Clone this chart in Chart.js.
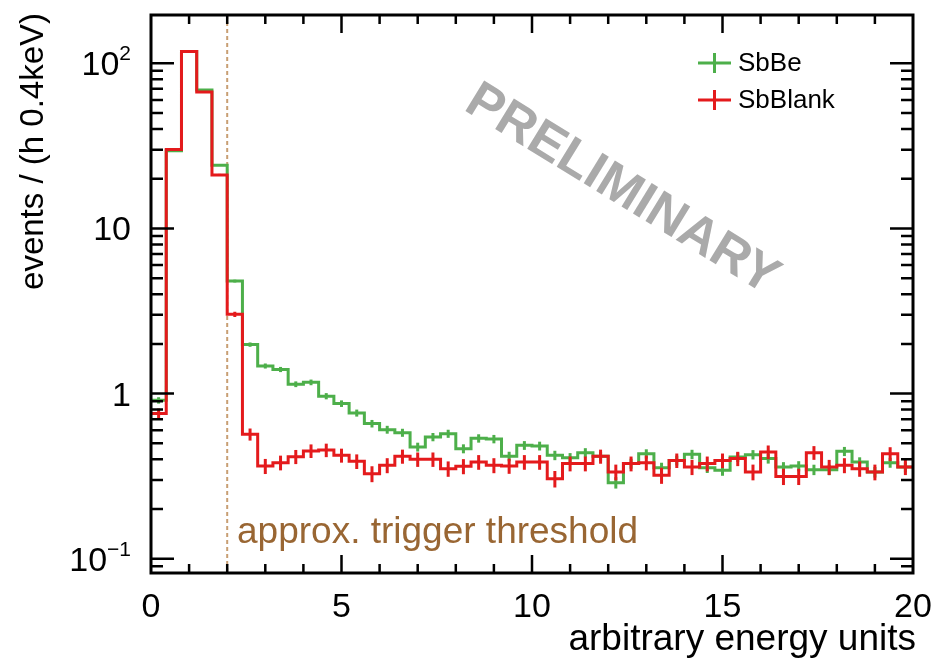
<!DOCTYPE html>
<html>
<head>
<meta charset="utf-8">
<script src="https://cdn.jsdelivr.net/npm/chart.js@4.4.0/dist/chart.umd.min.js"></script>
<style>
html, body { margin: 0; padding: 0; background: #fff; }
#wrap { width: 935px; height: 660px; }
</style>
</head>
<body>
<div id="wrap"><canvas id="myChart" width="935" height="660"></canvas></div>
<script>
// bin edges (0.4 wide bins)
const binEdges = [0, 0.4, 0.8, 1.2, 1.6, 2, 2.4, 2.8, 3.2, 3.6, 4, 4.4, 4.8, 5.2, 5.6, 6, 6.4, 6.8, 7.2, 7.6,
  8, 8.4, 8.8, 9.2, 9.6, 10, 10.4, 10.8, 11.2, 11.6, 12, 12.4, 12.8, 13.2, 13.6, 14, 14.4, 14.8, 15.2, 15.6,
  16, 16.4, 16.8, 17.2, 17.6, 18, 18.4, 18.8, 19.2, 19.6, 20];

const sbBe = [0.91, 29.5, 118, 69, 24.1, 4.8, 1.98, 1.47, 1.40, 1.14,
  1.17, 0.965, 0.87, 0.763, 0.658, 0.605, 0.58, 0.475, 0.546, 0.572,
  0.464, 0.536, 0.531, 0.417, 0.486, 0.482, 0.423, 0.409, 0.439, 0.417,
  0.289, 0.377, 0.432, 0.356, 0.394, 0.429, 0.356, 0.343, 0.413, 0.427,
  0.404, 0.359, 0.364, 0.346, 0.346, 0.447, 0.385, 0.335, 0.382, 0.359];

const sbBlank = [0.757, 30.1, 118, 67, 21.1, 3.02, 0.567, 0.364, 0.382, 0.415,
  0.45, 0.455, 0.423, 0.389, 0.327, 0.368, 0.417, 0.40, 0.40, 0.351,
  0.363, 0.385, 0.368, 0.365, 0.385, 0.385, 0.305, 0.377, 0.377, 0.417,
  0.335, 0.377, 0.382, 0.32, 0.394, 0.359, 0.377, 0.394, 0.404, 0.335,
  0.443, 0.315, 0.315, 0.439, 0.359, 0.368, 0.351, 0.335, 0.432, 0.359];

// counts per unit of the y value, used for poisson error bars
const exposureBe = 550;
const exposureBlank = 250;

const xTickLabels = ['0', '5', '10', '15', '20'];
const xTickValues = [0, 5, 10, 15, 20];
const yTickValues = [0.1, 1, 10, 100];
const yTickLabels = [['10', '\u22121'], ['1', ''], ['10', ''], ['10', '2']];
const thresholdX = 2;

const green = 'rgb(77,175,74)';
const red = 'rgb(228,26,28)';
const FONT = '"Liberation Sans", Arial, Helvetica, sans-serif';

function toSteps(values) {
  const pts = values.map((v, i) => ({ x: binEdges[i], y: v }));
  pts.push({ x: binEdges[values.length], y: values[values.length - 1] });
  return pts;
}

function poissonErr(values, k) {
  return values.map(v => Math.sqrt(v / k));
}

const framePlugin = {
  id: 'framePlugin',
  beforeDatasetsDraw(chart) {
    const { ctx, chartArea: a, scales: { x } } = chart;
    const px = x.getPixelForValue(thresholdX);
    ctx.save();
    ctx.strokeStyle = 'rgb(200,158,115)';
    ctx.lineWidth = 2;
    ctx.setLineDash([4, 3]);
    ctx.beginPath();
    ctx.moveTo(px, a.top);
    ctx.lineTo(px, a.bottom);
    ctx.stroke();
    ctx.restore();

    // watermark
    ctx.save();
    ctx.translate(622, 190);
    ctx.rotate(31.5 * Math.PI / 180);
    ctx.fillStyle = 'rgb(170,170,170)';
    ctx.font = 'bold 52px ' + FONT;
    ctx.textAlign = 'center';
    ctx.textBaseline = 'middle';
    ctx.fillText('PRELIMINARY', 0, 0);
    ctx.restore();
  },
  afterDatasetDraw(chart, args) {
    const ds = chart.data.datasets[args.index];
    const { ctx, scales: { x, y } } = chart;
    ctx.save();
    ctx.strokeStyle = ds.borderColor;
    ctx.lineWidth = 3;
    ds.values.forEach((v, i) => {
      const e = ds.errors[i];
      const xc = x.getPixelForValue((binEdges[i] + binEdges[i + 1]) / 2);
      const y1 = y.getPixelForValue(v + e);
      const y2 = y.getPixelForValue(Math.max(v - e, 0.01));
      ctx.beginPath();
      ctx.moveTo(xc, y1);
      ctx.lineTo(xc, y2);
      ctx.stroke();
    });
    ctx.restore();
  },
  afterDraw(chart) {
    const { ctx, chartArea: a, scales: { x, y } } = chart;
    ctx.save();
    ctx.strokeStyle = '#000';
    ctx.lineWidth = 3;
    ctx.strokeRect(a.left, a.top, a.right - a.left, a.bottom - a.top);

    // x ticks, every unit, long ones every 5
    ctx.lineWidth = 2.5;
    for (let v = 1; v < 20; v++) {
      const p = x.getPixelForValue(v);
      const len = v % 5 === 0 ? 18 : 9;
      ctx.beginPath();
      ctx.moveTo(p, a.bottom); ctx.lineTo(p, a.bottom - len);
      ctx.moveTo(p, a.top); ctx.lineTo(p, a.top + len);
      ctx.stroke();
    }
    // y ticks, log minor ticks
    for (let d = -2; d <= 2; d++) {
      for (let m = 1; m <= 9; m++) {
        const v = m * Math.pow(10, d);
        if (v < y.min || v > y.max) continue;
        const p = y.getPixelForValue(v);
        const len = m === 1 ? 23 : 12;
        ctx.beginPath();
        ctx.moveTo(a.left, p); ctx.lineTo(a.left + len, p);
        ctx.moveTo(a.right, p); ctx.lineTo(a.right - len, p);
        ctx.stroke();
      }
    }

    ctx.fillStyle = '#000';
    // x tick labels
    ctx.font = '34px ' + FONT;
    ctx.textAlign = 'center';
    ctx.textBaseline = 'alphabetic';
    xTickValues.forEach((v, i) => {
      ctx.fillText(xTickLabels[i], x.getPixelForValue(v), 617);
    });

    // y tick labels with superscripts
    yTickValues.forEach((v, i) => {
      const [base, sup] = yTickLabels[i];
      const p = y.getPixelForValue(v);
      ctx.font = '34px ' + FONT;
      const w1 = ctx.measureText(base).width;
      ctx.font = '21px ' + FONT;
      const w2 = sup ? ctx.measureText(sup).width : 0;
      const left = 131 - w1 - w2;
      ctx.textAlign = 'left';
      ctx.font = '34px ' + FONT;
      ctx.fillText(base, left, p + 12);
      if (sup) {
        ctx.font = '21px ' + FONT;
        ctx.fillText(sup, left + w1, p - 3);
      }
    });

    // axis titles
    ctx.font = '37px ' + FONT;
    ctx.textAlign = 'right';
    ctx.fillText('arbitrary energy units', 916, 650);

    ctx.save();
    ctx.translate(43, 13);
    ctx.rotate(-Math.PI / 2);
    ctx.font = '33px ' + FONT;
    ctx.textAlign = 'right';
    ctx.fillText('events / (h 0.4keV)', 0, 0);
    ctx.restore();

    // threshold annotation
    ctx.fillStyle = 'rgb(153,102,51)';
    ctx.font = '37px ' + FONT;
    ctx.textAlign = 'left';
    ctx.fillText('approx. trigger threshold', 237, 543);

    // legend
    const legend = [['SbBe', green, 63], ['SbBlank', red, 100]];
    legend.forEach(([txt, col, cy]) => {
      ctx.strokeStyle = col;
      ctx.lineWidth = 3;
      ctx.beginPath();
      ctx.moveTo(698, cy); ctx.lineTo(731, cy);
      ctx.moveTo(714.5, cy - 10); ctx.lineTo(714.5, cy + 10);
      ctx.stroke();
      ctx.fillStyle = '#000';
      ctx.font = '26px ' + FONT;
      ctx.textBaseline = 'middle';
      ctx.fillText(txt, 738, cy + 1);
    });
    ctx.restore();
  }
};

const config = {
  type: 'line',
  data: {
    datasets: [
      {
        label: 'SbBlank',
        data: toSteps(sbBlank),
        values: sbBlank,
        errors: poissonErr(sbBlank, exposureBlank),
        borderColor: red,
        borderWidth: 3,
        stepped: 'before',
        pointRadius: 0,
        fill: false,
        order: 1
      },
      {
        label: 'SbBe',
        data: toSteps(sbBe),
        values: sbBe,
        errors: poissonErr(sbBe, exposureBe),
        borderColor: green,
        borderWidth: 3,
        stepped: 'before',
        pointRadius: 0,
        fill: false,
        order: 2
      }
    ]
  },
  options: {
    responsive: false,
    animation: false,
    layout: { padding: { top: 15, right: 22, left: 0, bottom: 0 } },
    plugins: { legend: { display: false }, tooltip: { enabled: false } },
    scales: {
      x: {
        type: 'linear', min: 0, max: 20,
        grid: { display: false }, border: { display: false }, ticks: { display: false },
        afterFit: s => { s.height = 87; }
      },
      y: {
        type: 'logarithmic', min: 0.082, max: 196,
        grid: { display: false }, border: { display: false }, ticks: { display: false },
        afterFit: s => { s.width = 151; }
      }
    }
  },
  plugins: [framePlugin]
};

const myChart = new Chart(document.getElementById('myChart'), config);
</script>
</body>
</html>
